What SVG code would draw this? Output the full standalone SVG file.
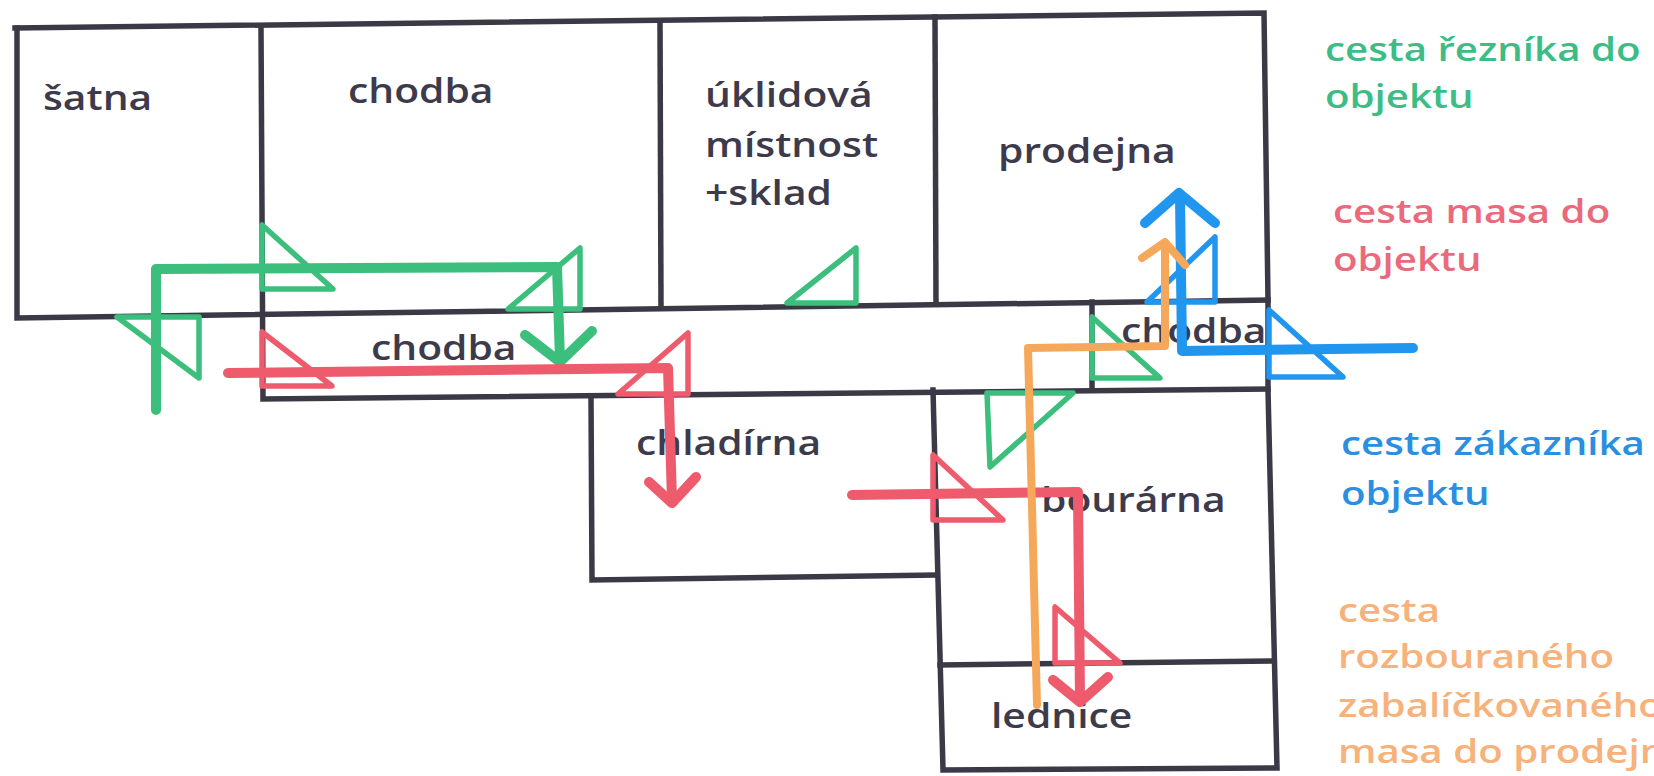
<svg xmlns="http://www.w3.org/2000/svg" width="1654" height="776" viewBox="0 0 1654 776">
<style>
.wall{fill:none;stroke:#3b3946;stroke-width:5.5;stroke-linecap:square;stroke-linejoin:miter}
.lbl{font-family:"Open Sans","Noto Sans",sans-serif;font-weight:600;font-size:34px;fill:#3d3b4b}
.leg{font-family:"Open Sans","Noto Sans",sans-serif;font-weight:600;font-size:33px}
.g{stroke:#3cbf7c}.r{stroke:#ee5b6c}.b{stroke:#2196ee}.o{stroke:#f5a85a}
.path{fill:none;stroke-width:10;stroke-linecap:round;stroke-linejoin:round}
.door{fill:none;stroke-width:5.5;stroke-linejoin:round;stroke-linecap:round}
</style>
<rect width="1654" height="776" fill="#ffffff"/>
<g id="walls">
<path class="wall" d="M15,28 L1264,13 L1268,300 L1268,390 L1277,768 L943,770 L933,390"/>
<path class="wall" d="M17,28 L17,318 L1268,300"/>
<path class="wall" d="M261,27 L263,399 L1268,389"/>
<path class="wall" d="M660,21 L661,308"/>
<path class="wall" d="M935,17 L936,304"/>
<path class="wall" d="M1092,302 L1092,390"/>
<path class="wall" d="M591,396 L592,580 L935,575"/>
<path class="wall" d="M940,665 L1270,661"/>
</g>
<g id="room-satna"><text class="lbl" transform="translate(43,110) scale(1.2,1)">šatna</text></g>
<g id="room-chodba-1"><text class="lbl" transform="translate(348,103) scale(1.2,1)">chodba</text></g>
<g id="room-uklidova"><text class="lbl" transform="translate(705,107) scale(1.2,1)">úklidová</text><text class="lbl" transform="translate(705,157) scale(1.2,1)">místnost</text><text class="lbl" transform="translate(705,205) scale(1.2,1)">+sklad</text></g>
<g id="room-prodejna"><text class="lbl" transform="translate(998,163) scale(1.2,1)">prodejna</text></g>
<g id="room-chodba-2"><text class="lbl" transform="translate(371,360) scale(1.2,1)">chodba</text></g>
<g id="room-chodba-3"><text class="lbl" transform="translate(1121,343) scale(1.2,1)">chodba</text></g>
<g id="room-chladirna"><text class="lbl" transform="translate(636,455) scale(1.2,1)">chladírna</text></g>
<g id="room-bourarna"><text class="lbl" transform="translate(1041,512) scale(1.2,1)">bourárna</text></g>
<g id="room-lednice"><text class="lbl" transform="translate(991,728) scale(1.2,1)">lednice</text></g>
<g id="connectors">
<g id="green">
<path class="path g" d="M156,410 L156,269 L557,267 L560,360"/>
<path class="path g" d="M525,335 L560,362 L592,331"/>
<path class="door g" d="M117,317 L199,317 L199,378 Z"/>
<path class="door g" d="M262,225 L262,289 L333,289 Z"/>
<path class="door g" d="M580,248 L580,309 L508,309 Z"/>
<path class="door g" d="M856,248 L856,303 L787,303 Z"/>
<path class="door g" d="M1092,317 L1092,378 L1160,378 Z"/>
<path class="door g" d="M987,393 L1073,393 L990,467 Z"/>
</g>
<g id="red">
<path class="path r" d="M228,373 L668,368 L672,500"/>
<path class="path r" d="M649,482 L672,503 L696,477"/>
<path class="path r" d="M852,495 L1078,492 L1080,700"/>
<path class="path r" d="M1053,680 L1080,702 L1108,677"/>
<path class="door r" d="M262,332 L262,386 L332,386 Z"/>
<path class="door r" d="M688,333 L688,394 L618,394 Z"/>
<path class="door r" d="M933,455 L933,520 L1003,520 Z"/>
<path class="door r" d="M1055,607 L1055,663 L1120,663 Z"/>
</g>
<g id="blue">
<path class="path b" d="M1413,348 L1182,351 L1180,196"/>
<path class="path b" d="M1145,223 L1179,193 L1215,223"/>
<path class="door b" d="M1215,237 L1215,302 L1147,302 Z"/>
<path class="door b" d="M1269,310 L1269,377 L1343,377 Z"/>
</g>
<g id="orange">
<path class="path o" style="stroke-width:8" d="M1037,705 L1028,348 L1165,346 L1165,244"/>
<path class="path o" style="stroke-width:8" d="M1142,258 L1165,242 L1185,265"/>
</g>
</g>
<g id="legend">
<g id="legend-green" fill="#3dbd85"><text class="leg" transform="translate(1325,61) scale(1.22,1)">cesta řezníka do</text><text class="leg" transform="translate(1325,108) scale(1.22,1)">objektu</text></g>
<g id="legend-red" fill="#ea6a7c"><text class="leg" transform="translate(1333,223) scale(1.22,1)">cesta masa do</text><text class="leg" transform="translate(1333,271) scale(1.22,1)">objektu</text></g>
<g id="legend-blue" fill="#2a8fe0"><text class="leg" transform="translate(1341,455) scale(1.22,1)">cesta zákazníka do</text><text class="leg" transform="translate(1341,505) scale(1.22,1)">objektu</text></g>
<g id="legend-orange" fill="#f6b27a"><text class="leg" transform="translate(1338,622) scale(1.22,1)">cesta</text><text class="leg" transform="translate(1338,668) scale(1.22,1)">rozbouraného</text><text class="leg" transform="translate(1338,717) scale(1.22,1)">zabalíčkovaného</text><text class="leg" transform="translate(1338,763) scale(1.22,1)">masa do prodejny</text></g>
</g>
</svg>
